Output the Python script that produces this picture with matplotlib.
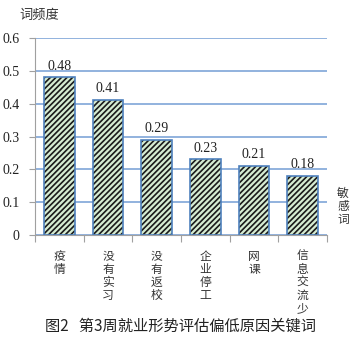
import matplotlib.pyplot as plt
import matplotlib as mpl

plt.rcParams['font.family'] = ['Noto Sans CJK SC', 'DejaVu Sans']
mpl.rcParams['hatch.linewidth'] = 1.2

keywords = ['疫情', '没有实习', '没有返校', '企业停工', '网课', '信息交流少']
freq = [0.48, 0.41, 0.29, 0.23, 0.21, 0.18]
yticks = [0, 0.1, 0.2, 0.3, 0.4, 0.5, 0.6]

serif = ['Liberation Serif', 'DejaVu Serif']

fig = plt.figure(figsize=(3.61, 3.43), dpi=100)
ax = fig.add_axes([0.097, 0.315, 0.809, 0.574])

x = range(len(keywords))
# fill + black hatch first, then the blue outline on top
ax.bar(x, freq, width=0.63, color='#d6ecd2', edgecolor='#1a1a1a',
       linewidth=0, hatch='//////', zorder=3)
ax.bar(x, freq, width=0.63, fill=False, edgecolor='#4f81bd',
       linewidth=1.2, zorder=4)
for i, v in enumerate(freq):
    ax.text(i, v + 0.015, f'{v:.2f}', ha='center', va='bottom',
            fontsize=10, family=serif, color='#222222')

ax.set_xlim(-0.5, len(keywords) - 0.5)
ax.set_ylim(0, 0.6)
ax.set_yticks(yticks)
ax.set_yticklabels([f'{t:g}' for t in yticks], family=serif,
                   fontsize=10, color='#222222')
ax.yaxis.grid(True, color='#7fa6d8', linewidth=1.2, zorder=0)
ax.set_axisbelow(True)

for s in ['top', 'right']:
    ax.spines[s].set_visible(False)
ax.spines['left'].set_color('#a0a0a0')
ax.spines['bottom'].set_color('#a0a0a0')
ax.tick_params(axis='y', length=4, color='#a0a0a0', pad=7)

# category boundaries as ticks, labels written one character per row
ax.set_xticks([i - 0.5 for i in range(len(keywords) + 1)])
ax.set_xticklabels([])
ax.tick_params(axis='x', length=5, color='#a0a0a0', direction='out')
pitch = 9.3  # points between stacked characters
for i, k in enumerate(keywords):
    for j, ch in enumerate(k):
        ax.annotate(ch, (i, 0), xycoords=('data', 'axes fraction'),
                    xytext=(0, -11 - j * pitch), textcoords='offset points',
                    ha='center', va='top', fontsize=8.5, color='#333333')

for j, ch in enumerate('敏感词'):
    fig.text(0.95, 0.455 - j * pitch / 72 / 3.43, ch, fontsize=8.5,
             color='#333333', ha='center', va='top')

fig.text(0.055, 0.955, '词频度', fontsize=9.5, color='#333333', va='center')
fig.text(0.5, 0.05, '图2   第3周就业形势评估偏低原因关键词', fontsize=11,
         color='#222222', ha='center', va='center')

fig.savefig('out.png', dpi=100)
